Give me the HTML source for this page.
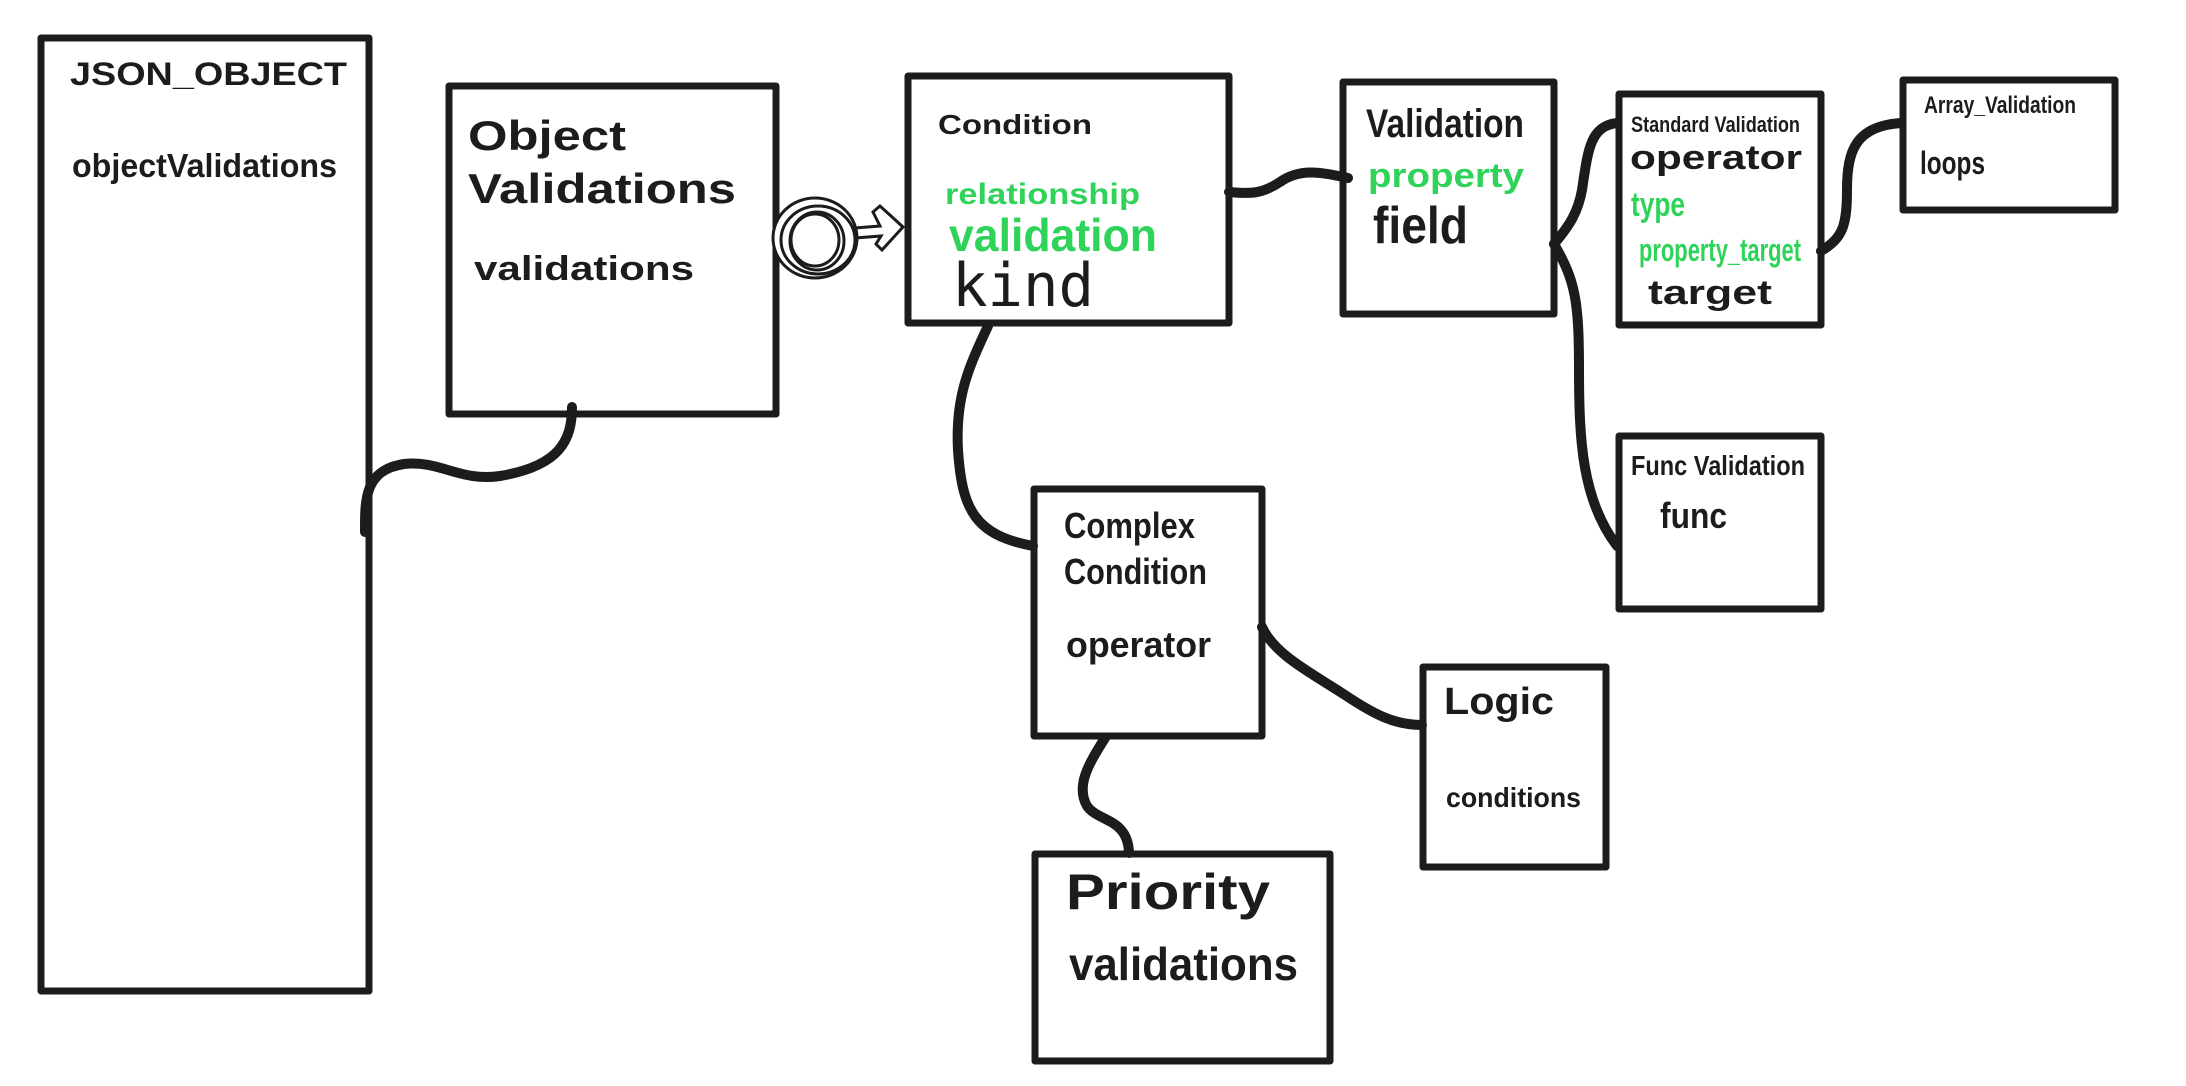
<!DOCTYPE html>
<html><head><meta charset="utf-8"><style>
html,body{margin:0;padding:0;background:#fff;}
svg{display:block;}
text{font-family:"Liberation Sans",sans-serif;font-weight:bold;}
</style></head><body>
<svg width="2186" height="1086" viewBox="0 0 2186 1086" xmlns="http://www.w3.org/2000/svg">
<g fill="#fff" stroke="#1c1c1c" stroke-width="7" stroke-linejoin="round">
<rect x="41" y="38" width="328" height="953"/>
<rect x="449" y="86" width="327" height="328"/>
<rect x="908" y="76" width="321" height="247"/>
<rect x="1343" y="82" width="211" height="232"/>
<rect x="1619" y="94" width="202" height="231"/>
<rect x="1903" y="80" width="212" height="130"/>
<rect x="1619" y="436" width="202" height="173"/>
<rect x="1034" y="489" width="228" height="247"/>
<rect x="1423" y="667" width="183" height="200"/>
<rect x="1035" y="854" width="295" height="207"/>
</g>
<g fill="none" stroke="#1c1c1c" stroke-width="10" stroke-linecap="round">
<path d="M365,532 C365,500 364,470 404,464 C440,460 460,482 500,476 C560,466 572,440 572,407"/>
<path d="M1229,192 C1250,194 1262,194 1280,182 C1300,168 1320,172 1348,178"/>
<path d="M1554,244 C1570,225 1578,212 1582,190 C1588,150 1590,126 1617,123"/>
<path d="M1554,244 C1575,280 1579,300 1579,369 C1579,440 1582,500 1617,546"/>
<path d="M1821,251 C1843,238 1847,225 1847,190 C1847,150 1856,126 1901,123"/>
<path d="M988,326 C970,365 955,395 958,450 C962,510 975,535 1033,546"/>
<path d="M1262,627 C1275,655 1310,672 1345,695 C1375,715 1395,725 1422,725"/>
<path d="M1105,738 C1090,762 1075,785 1087,806 C1098,822 1128,818 1129,853"/>
</g>
<g fill="#fff" stroke="#1c1c1c" stroke-width="3">
<path d="M855,228 L880,226 L873,212 L880,206 L903,227 L882,250 L876,244 L881,236 L855,238 Z"/>
<ellipse cx="815" cy="238" rx="42" ry="40"/>
<ellipse cx="818" cy="240" rx="37" ry="34"/>
<ellipse cx="817" cy="241" rx="27" ry="29"/>
<ellipse cx="815" cy="240" rx="24" ry="26"/>
</g>
<g fill="#1c1c1c">
<text x="70" y="85" font-size="32" textLength="277" lengthAdjust="spacingAndGlyphs">JSON_OBJECT</text>
<text x="72" y="177" font-size="33" textLength="265" lengthAdjust="spacingAndGlyphs">objectValidations</text>
<text x="468" y="150" font-size="42" textLength="158" lengthAdjust="spacingAndGlyphs">Object</text>
<text x="468" y="203" font-size="42" textLength="268" lengthAdjust="spacingAndGlyphs">Validations</text>
<text x="474" y="280" font-size="34" textLength="220" lengthAdjust="spacingAndGlyphs">validations</text>
<text x="938" y="134" font-size="28" textLength="154" lengthAdjust="spacingAndGlyphs">Condition</text>
<text x="952" y="306" font-size="60" style="font-family:'DejaVu Sans Mono',monospace;font-weight:normal" textLength="142" lengthAdjust="spacingAndGlyphs">kind</text>
<text x="1366" y="137" font-size="40" textLength="158" lengthAdjust="spacingAndGlyphs">Validation</text>
<text x="1373" y="243" font-size="52" textLength="95" lengthAdjust="spacingAndGlyphs">field</text>
<text x="1631" y="132" font-size="22" textLength="169" lengthAdjust="spacingAndGlyphs">Standard Validation</text>
<text x="1630" y="169" font-size="34" textLength="172" lengthAdjust="spacingAndGlyphs">operator</text>
<text x="1648" y="304" font-size="34" textLength="124" lengthAdjust="spacingAndGlyphs">target</text>
<text x="1924" y="113" font-size="24" textLength="152" lengthAdjust="spacingAndGlyphs">Array_Validation</text>
<text x="1920" y="174" font-size="32" textLength="65" lengthAdjust="spacingAndGlyphs">loops</text>
<text x="1631" y="475" font-size="28" textLength="174" lengthAdjust="spacingAndGlyphs">Func Validation</text>
<text x="1660" y="528" font-size="36" textLength="67" lengthAdjust="spacingAndGlyphs">func</text>
<text x="1064" y="538" font-size="36" textLength="131" lengthAdjust="spacingAndGlyphs">Complex</text>
<text x="1064" y="584" font-size="36" textLength="143" lengthAdjust="spacingAndGlyphs">Condition</text>
<text x="1066" y="657" font-size="36" textLength="145" lengthAdjust="spacingAndGlyphs">operator</text>
<text x="1444" y="714" font-size="38" textLength="110" lengthAdjust="spacingAndGlyphs">Logic</text>
<text x="1446" y="807" font-size="28" textLength="135" lengthAdjust="spacingAndGlyphs">conditions</text>
<text x="1066" y="909" font-size="50" textLength="204" lengthAdjust="spacingAndGlyphs">Priority</text>
<text x="1069" y="980" font-size="46" textLength="229" lengthAdjust="spacingAndGlyphs">validations</text>
</g>
<g fill="#2fd35a">
<text x="945" y="204" font-size="30" textLength="195" lengthAdjust="spacingAndGlyphs">relationship</text>
<text x="949" y="251" font-size="46" textLength="208" lengthAdjust="spacingAndGlyphs">validation</text>
<text x="1368" y="187" font-size="34" textLength="156" lengthAdjust="spacingAndGlyphs">property</text>
<text x="1631" y="216" font-size="34" textLength="54" lengthAdjust="spacingAndGlyphs">type</text>
<text x="1639" y="261" font-size="32" textLength="162" lengthAdjust="spacingAndGlyphs">property_target</text>
</g>
</svg>
</body></html>
